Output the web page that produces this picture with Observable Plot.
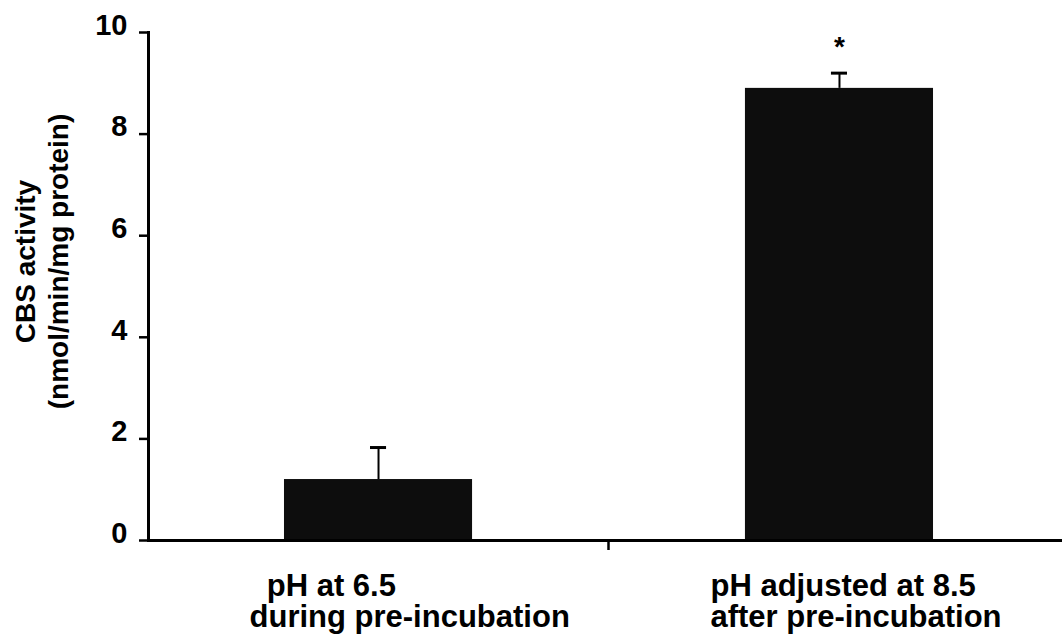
<!DOCTYPE html>
<html><head><meta charset="utf-8">
<script src="https://cdn.jsdelivr.net/npm/d3@7"></script>
<script src="https://cdn.jsdelivr.net/npm/@observablehq/plot@0.6"></script>
<style>body{margin:0;background:#fff}</style>
</head><body><div id="chart"></div>
<script>
const categories = ["pH at 6.5 during pre-incubation", "pH adjusted at 8.5 after pre-incubation"];
const categoryLabels = ["\u00a0\u00a0pH at 6.5\nduring pre-incubation", "pH adjusted at 8.5\nafter pre-incubation"];
const means = [1.2, 8.9];
const errors = [0.63, 0.3];
const significant = [false, true];
const yTicks = [0, 2, 4, 6, 8, 10];
const yLabel = "CBS activity\n(nmol/min/mg protein)";

const data = categories.map((c, i) => ({category: c, label: categoryLabels[i], mean: means[i], err: errors[i], sig: significant[i]}));

const plot = Plot.plot({
  width: 1062, height: 637,
  marginLeft: 148, marginRight: 0, marginTop: 32, marginBottom: 97,
  style: {fontFamily: "'Liberation Sans', Arial, sans-serif", fontWeight: "bold", color: "#000", background: "#fff"},
  x: {domain: categories, range: [148, 1069], paddingInner: 0.592, paddingOuter: 0.295, round: false, axis: null},
  y: {domain: [0, 10], axis: null},
  marks: [
    Plot.barY(data, {x: "category", y: "mean", fill: "#0d0d0d"}),
    Plot.ruleX(data, {x: "category", y1: "mean", y2: d => d.mean + d.err, stroke: "#000", strokeWidth: 2}),
    Plot.tickY(data, {x: "category", y: d => d.mean + d.err, stroke: "#000", strokeWidth: 3, insetLeft: 86, insetRight: 86}),
    Plot.text(data.filter(d => d.sig), {x: "category", y: d => d.mean + d.err, text: () => "*", fontSize: 28, lineAnchor: "bottom", dy: -17}),
    Plot.ruleY([0], {strokeWidth: 3}),
    Plot.axisY({ticks: yTicks, tickSize: 9, tickFormat: () => "", label: null, strokeWidth: 2.5}),
    Plot.axisY({ticks: yTicks, tickSize: 0, tickPadding: 21, dy: -7, fontSize: 29, fontWeight: "bold", label: null}),
    Plot.frame({anchor: "left", strokeWidth: 3}),
    Plot.text(data, {x: "category", y: 0, text: "label", textAnchor: "start", lineAnchor: "top", lineHeight: 1, fontSize: 31, dx: -129, dy: 33}),
    Plot.text([yLabel], {frameAnchor: "left", text: d => d, rotate: -90, textAnchor: "middle", lineAnchor: "top", lineHeight: 1.18, fontSize: 28, dx: -137, dy: -25})
  ]
});

// small tick on the x axis at the boundary between the two category bands
const xs = plot.scale("x");
const ys = plot.scale("y");
const gap = xs.step - xs.bandwidth;
const bx = xs.apply(categories[1]) - gap / 2;
d3.select(plot).append("line")
  .attr("x1", bx).attr("x2", bx)
  .attr("y1", ys.apply(0)).attr("y2", ys.apply(0) + 10)
  .attr("stroke", "#000").attr("stroke-width", 2.5);

document.getElementById("chart").append(plot);
</script>
</body></html>
